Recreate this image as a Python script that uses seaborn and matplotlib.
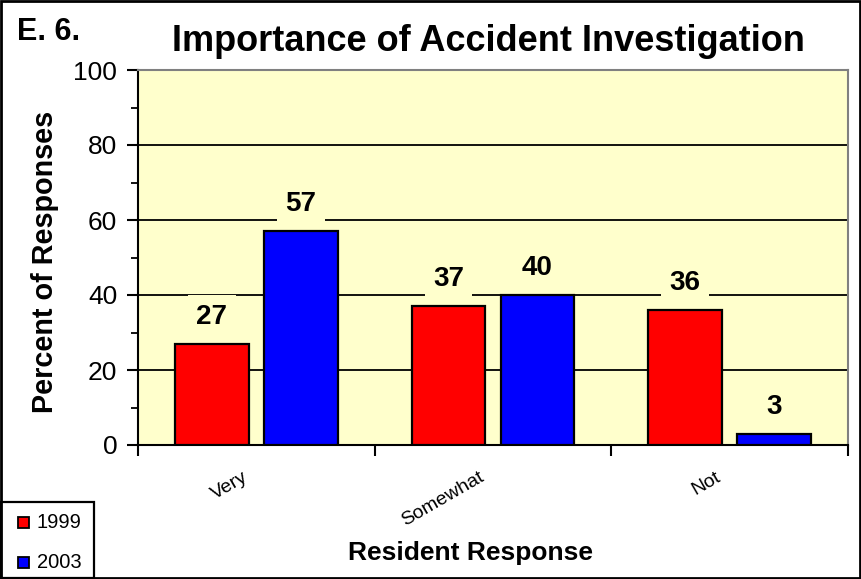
import matplotlib
matplotlib.use("Agg")
import matplotlib.pyplot as plt
from matplotlib.patches import Rectangle
from matplotlib.ticker import FixedLocator
from matplotlib.transforms import ScaledTranslation
import seaborn as sns
import pandas as pd

# Survey data
categories = ["Very", "Somewhat", "Not"]
years = ["1999", "2003"]
pct_1999 = [27, 37, 36]
pct_2003 = [57, 40, 3]

df = pd.DataFrame({
    "Response": categories * 2,
    "Year": [years[0]] * 3 + [years[1]] * 3,
    "Percent": pct_1999 + pct_2003,
})

sns.set_theme(style="white")
plt.rcParams["font.family"] = ["Liberation Sans", "DejaVu Sans"]
plt.rcParams.update({"text.color": "black", "axes.labelcolor": "black",
                     "xtick.color": "black", "ytick.color": "black"})

W, H = 861, 579
fig = plt.figure(figsize=(W / 100, H / 100), dpi=100)
ax = fig.add_axes([138 / W, 1 - 445 / H, 710 / W, 375 / H])
ax.set_facecolor("#FFFFCC")

palette = {"1999": "#FF0000", "2003": "#0000FF"}
sns.barplot(data=df, x="Response", y="Percent", hue="Year", order=categories,
            hue_order=years, palette=palette, width=0.75, gap=0.17,
            edgecolor="black", linewidth=1.6, saturation=1, ax=ax,
            legend=False, zorder=3)

ax.set_xlim(-0.5, 2.5)
ax.set_ylim(0, 100)
ax.yaxis.set_major_locator(FixedLocator([0, 20, 40, 60, 80, 100]))
ax.yaxis.set_minor_locator(FixedLocator([10, 30, 50, 70, 90]))
ax.grid(axis="y", which="major", color="black", linewidth=1.3, zorder=1)
ax.set_axisbelow(True)

for side in ["top", "right"]:
    ax.spines[side].set_color("#808080")
    ax.spines[side].set_linewidth(1.5)
for side in ["left", "bottom"]:
    ax.spines[side].set_color("black")
    ax.spines[side].set_linewidth(1.5)

ax.tick_params(axis="y", which="major", direction="out", length=8, width=1.5,
               color="black", labelcolor="black", labelsize=19, left=True,
               pad=7)
ax.tick_params(axis="y", which="minor", direction="out", length=5, width=1.3,
               color="black", left=True)

# Category boundaries carry the x ticks; names sit between them
ax.xaxis.set_major_locator(FixedLocator([-0.5, 0.5, 1.5, 2.5]))
ax.xaxis.set_minor_locator(FixedLocator([0, 1, 2]))
ax.tick_params(axis="x", which="major", direction="out", length=8, width=1.5,
               color="black", bottom=True, labelbottom=False)
ax.tick_params(axis="x", which="minor", length=0, labelsize=14, pad=17,
               labelcolor="black")
ax.set_xticklabels(categories, minor=True)
shift = ScaledTranslation(-14 / 100, 0, fig.dpi_scale_trans)
for lbl in ax.get_xticklabels(minor=True):
    lbl.set_rotation(30)
    lbl.set_ha("right")
    lbl.set_rotation_mode("anchor")
    lbl.set_transform(lbl.get_transform() + shift)

ax.set_xlabel("Resident Response", fontsize=19, fontweight="bold",
              color="black")
ax.xaxis.set_label_coords((470 - 138) / 710, (445 - 541) / 375)
ax.set_ylabel("Percent of Responses", fontsize=20.7, fontweight="bold",
              color="black")
ax.yaxis.set_label_coords((59 - 138) / 710, (445 - 262) / 375)

# Value labels above bars
for container, yr in zip(ax.containers, years):
    vals = pct_1999 if yr == "1999" else pct_2003
    for bar, v in zip(container, vals):
        ax.annotate(str(v), (bar.get_x() + bar.get_width() / 2, v),
                    xytext=(0, 14.5), textcoords="offset points",
                    ha="center", va="baseline", fontsize=20,
                    fontweight="bold", color="black", zorder=4,
                    bbox=dict(boxstyle="square,pad=0.3", fc="#FFFFCC",
                              ec="none"))

fig.text(488 / W, 1 - 51 / H, "Importance of Accident Investigation",
         ha="center", va="baseline", fontsize=26, fontweight="bold",
         color="black")
fig.text(17 / W, 1 - 40 / H, "E. 6.", ha="left", va="baseline",
         fontsize=22, fontweight="bold", color="black")

# Outer frame
fig.patches.append(Rectangle((1 / W, 1 / H), (W - 2) / W, (H - 2) / H,
                             transform=fig.transFigure, fill=False,
                             ec="black", lw=2))

# Legend box in the lower-left corner
fig.patches.append(Rectangle((1 / W, 1 / H), 93 / W, 76 / H,
                             transform=fig.transFigure, fill=False,
                             ec="black", lw=1.6))
for i, yr in enumerate(years):
    yc = 1 - (522 + 40 * i) / H
    fig.patches.append(Rectangle((18 / W, yc - 5.5 / H), 11 / W, 11 / H,
                                 transform=fig.transFigure,
                                 fc=palette[yr], ec="black", lw=1.3))
    fig.text(37 / W, yc, yr, ha="left", va="center", fontsize=14.5,
             color="black")

fig.savefig("out.png", dpi=100)
